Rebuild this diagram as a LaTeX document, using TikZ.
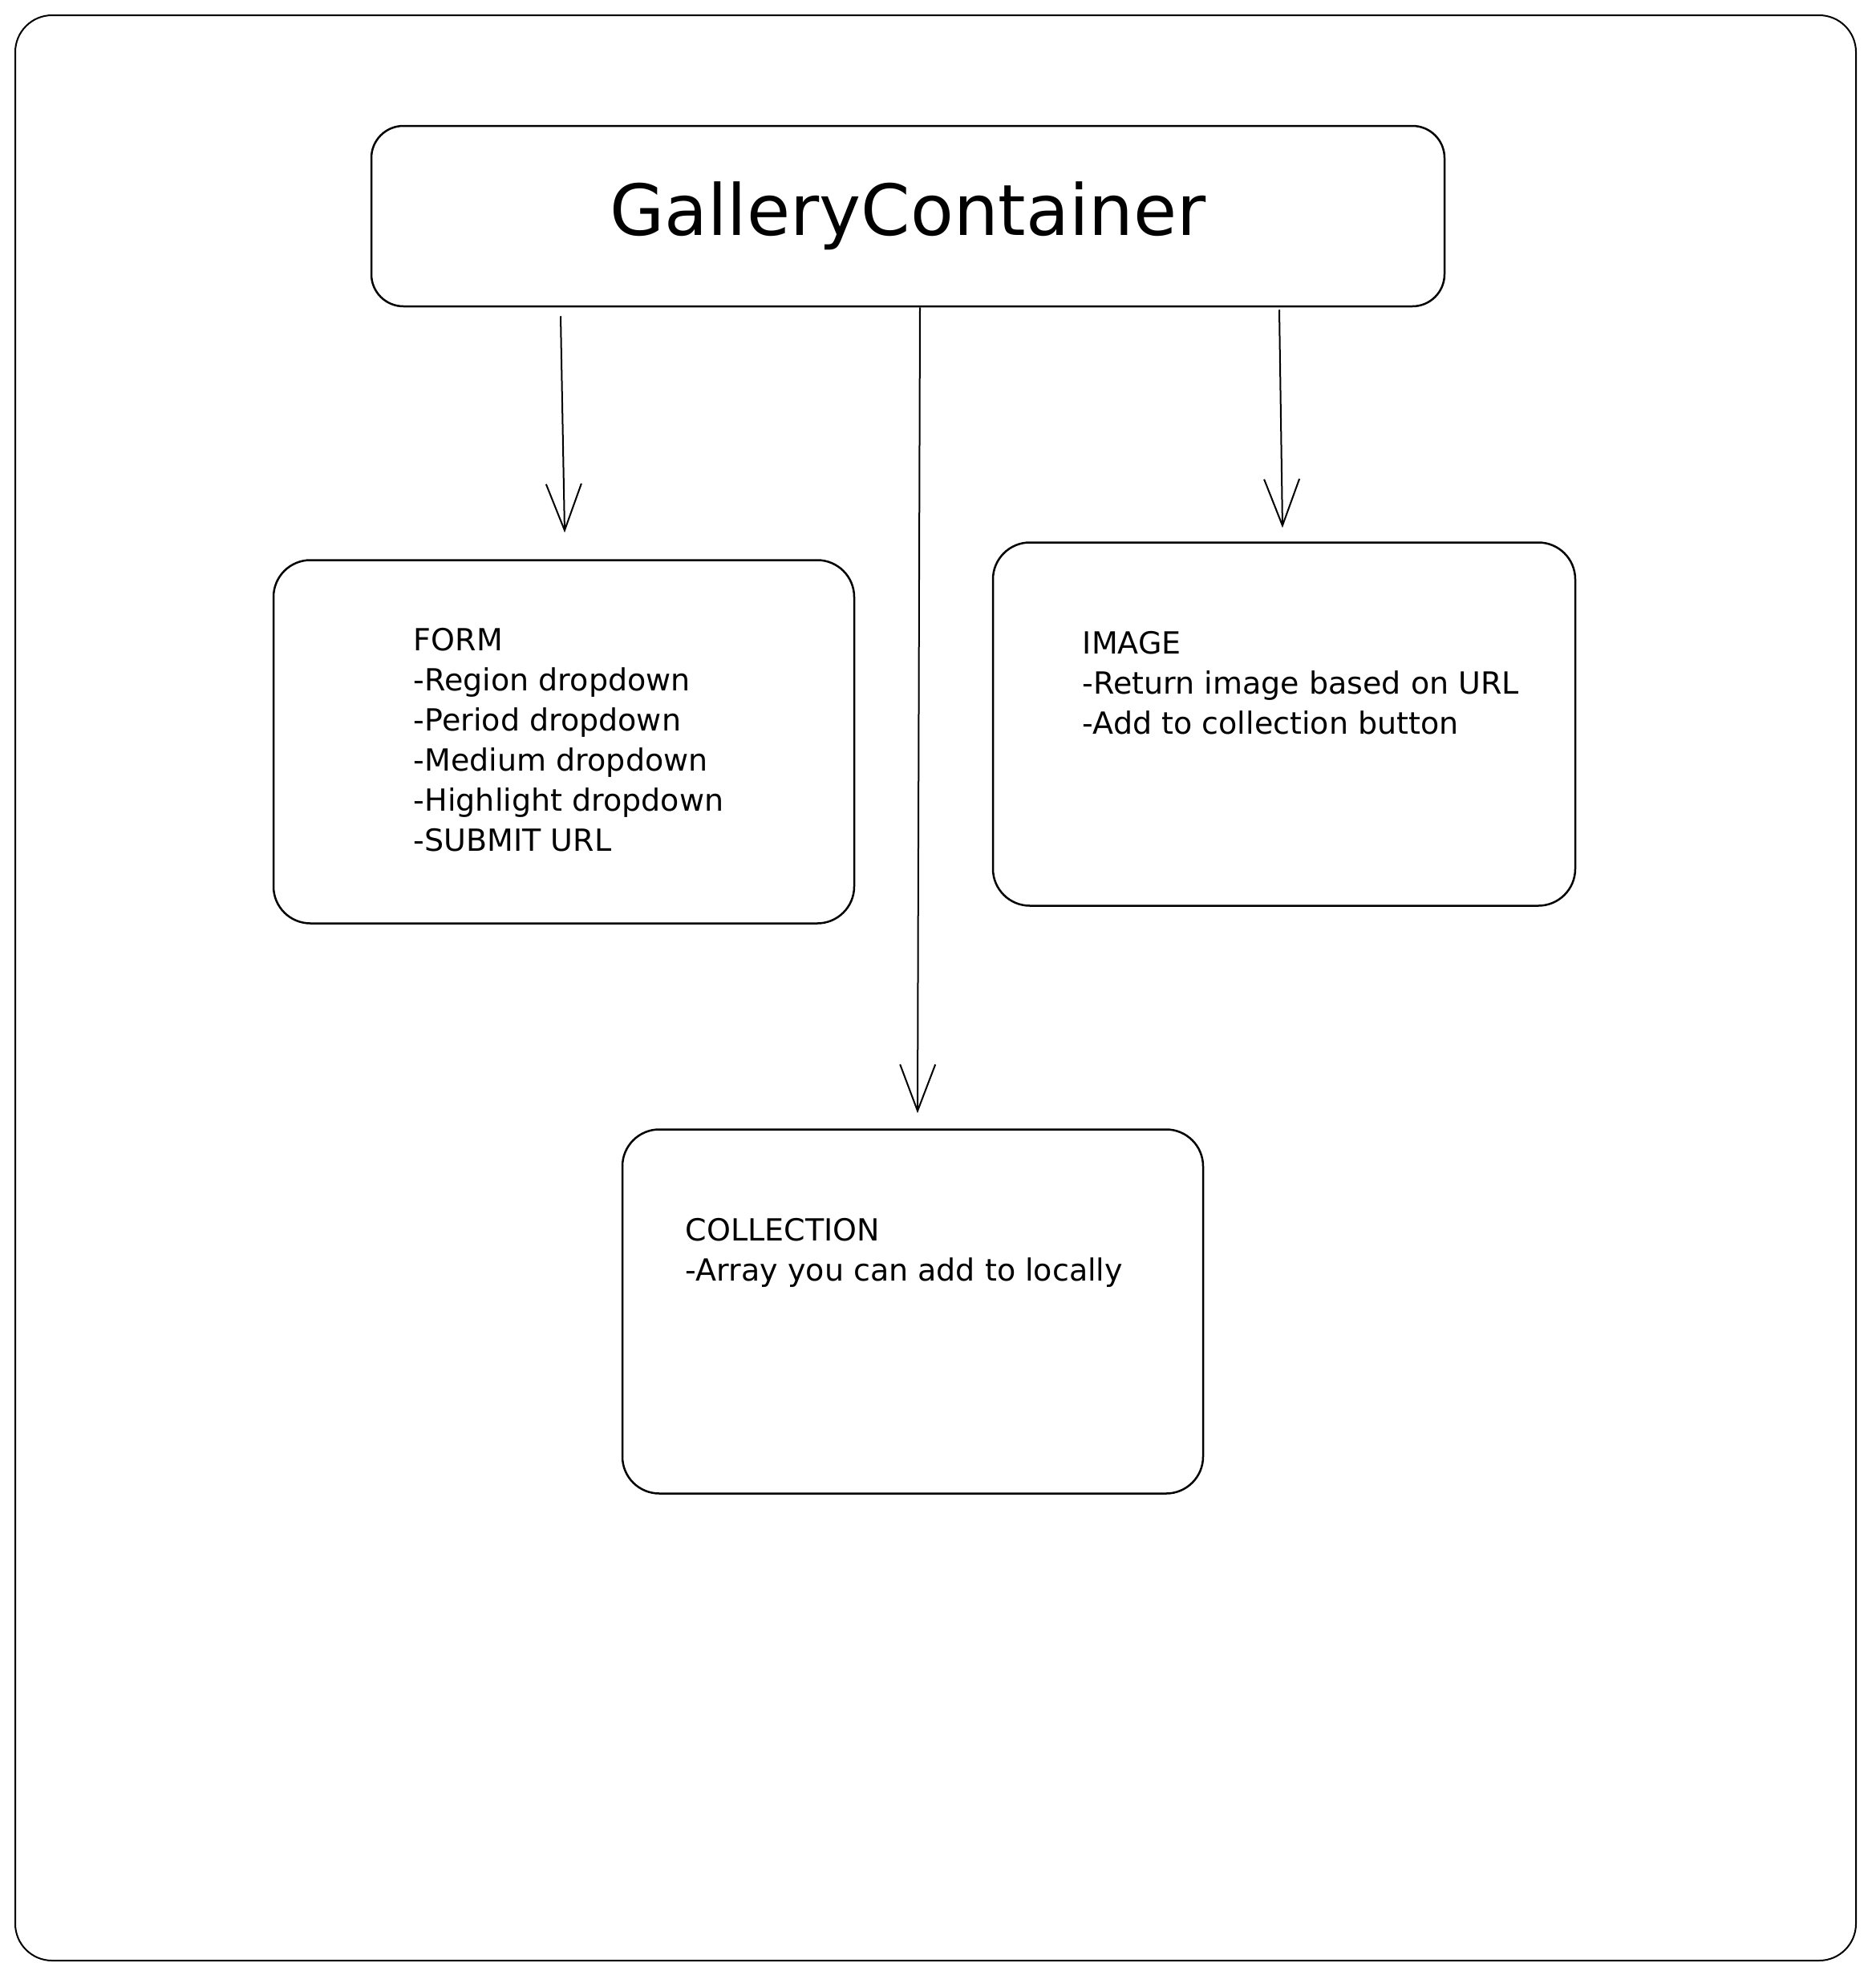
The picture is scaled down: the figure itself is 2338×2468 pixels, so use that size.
\documentclass[tikz,border=0pt]{standalone}
\usepackage{fontspec}
\setmainfont{DejaVu Sans}
\usetikzlibrary{positioning, arrows.meta, calc}

\tikzset{
    box/.style={draw, rounded corners=46pt, line width=2.5pt, inner sep=0pt},
    note/.style={align=left, inner sep=0pt, font=\fontsize{38}{50}\selectfont},
    arr/.style={-{Straight Barb[length=58pt,width=44pt]}, line width=2pt},
}

\begin{document}
\begin{tikzpicture}[x=1pt, y=-1pt]
    \useasboundingbox (0,0) rectangle (2338,2468);
    \node[box, line width=2pt, minimum width=2295pt, minimum height=2426pt] (frame) at (1166.5,1232) {};
    \node[box, rounded corners=40pt, minimum width=1338pt, minimum height=225pt,
        font=\fontsize{88}{100}\selectfont] (title) at (1132,269.5) {GalleryContainer};
    \node[box, minimum width=724pt, minimum height=453pt, below=314pt of title, xshift=-429pt] (form) {};
    \node[box, minimum width=726pt, minimum height=453pt, below=292pt of title, xshift=469pt] (image) {};
    \node[box, minimum width=724pt, minimum height=454pt, below=1024pt of title, xshift=6pt] (coll) {};

    \node[note, below right=86pt and 176pt of form.north west] (formtxt)
        {FORM\\-Region dropdown\\-Period dropdown\\-Medium dropdown\\-Highlight dropdown\\-SUBMIT URL};
    \node[note, below right=112pt and 113pt of image.north west] (imagetxt)
        {IMAGE\\-Return image based on URL\\-Add to collection button};
    \node[note, below right=112pt and 80pt of coll.north west] (colltxt)
        {COLLECTION\\-Array you can add to locally};

    \draw[arr] ([xshift=-433pt,yshift=-11pt]title.south) -- ([xshift=1pt,yshift=33pt]form.north);
    \draw[arr] ([xshift=15pt]title.south) -- ([xshift=6pt,yshift=19pt]coll.north);
    \draw[arr] ([xshift=463pt,yshift=-3pt]title.south) -- ([xshift=-2pt,yshift=17pt]image.north);
\end{tikzpicture}
\end{document}
